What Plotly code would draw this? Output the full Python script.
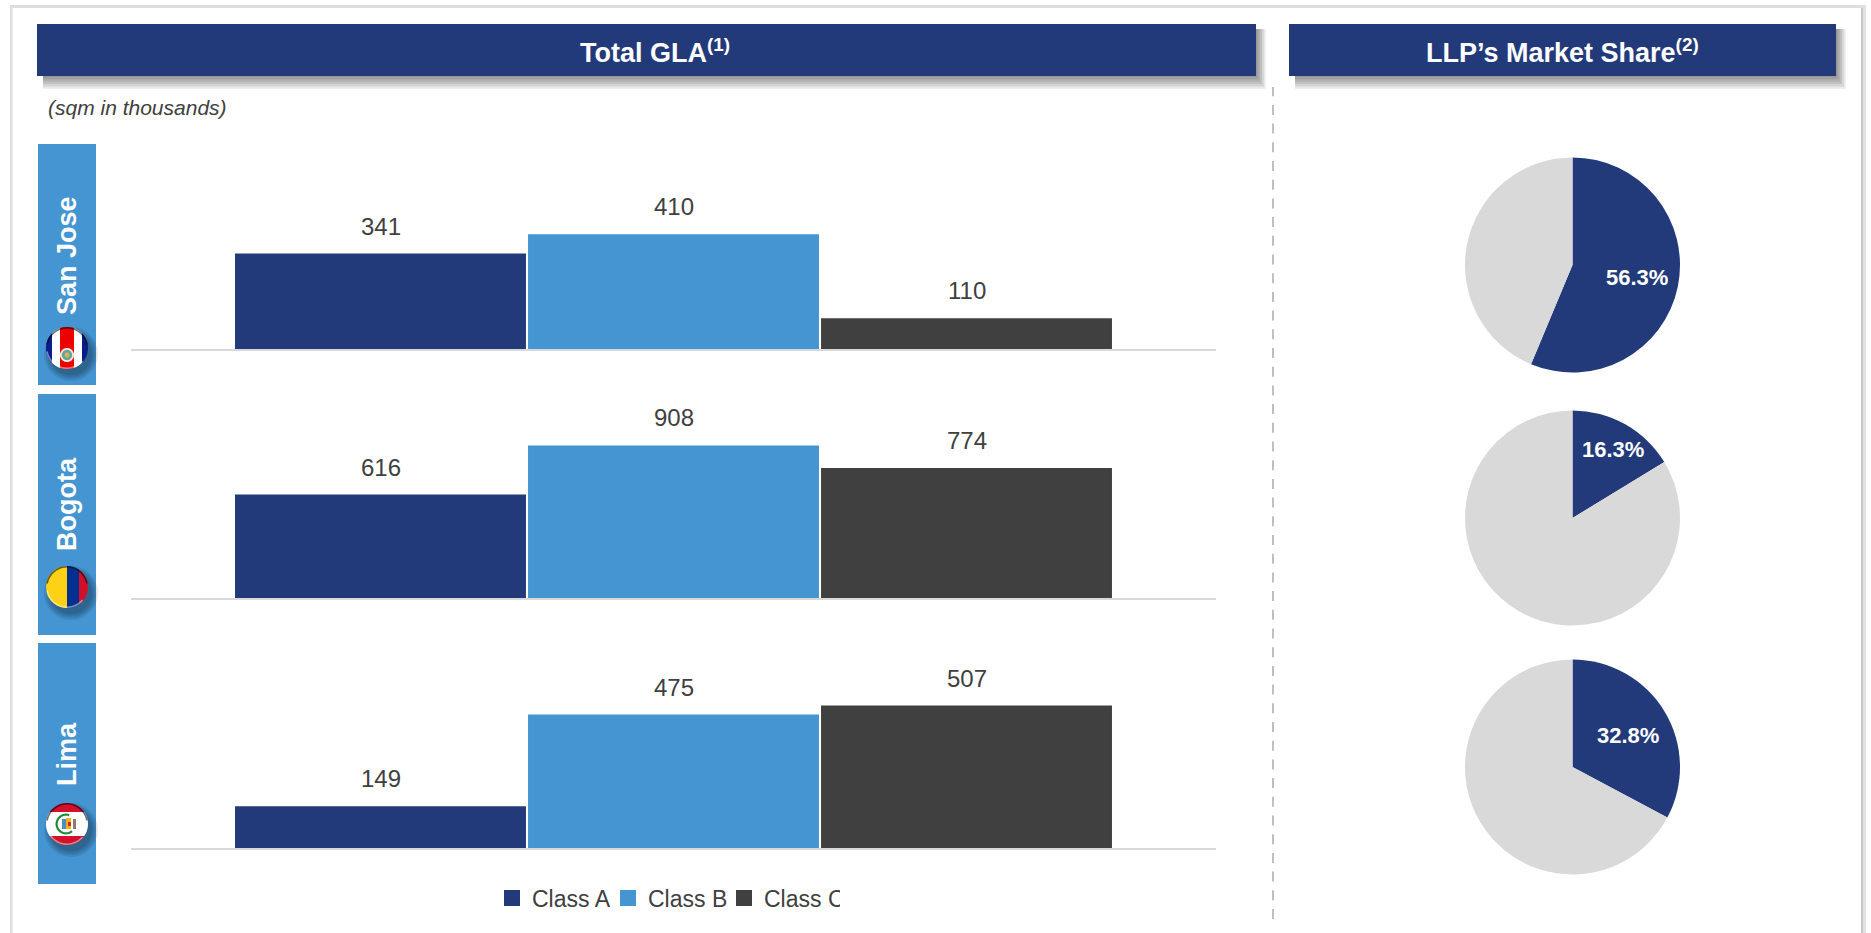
import math
import plotly.graph_objects as go

W, H = 1871, 933
FONT = "Liberation Sans"
NAVY, BLUE, DARK, GREY = "#223A7A", "#4595D3", "#404040", "#D9D9D9"

# Total GLA by city, sqm in thousands
cities = ["San Jose", "Bogota", "Lima"]
classes = ["Class A", "Class B", "Class C"]
class_a = [341, 616, 149]
class_b = [410, 908, 475]
class_c = [110, 774, 507]
class_colors = [NAVY, BLUE, DARK]

# LLP's market share per city, percent
market_share = [56.3, 16.3, 32.8]

# Layout of the three rows, in pixels from the top-left corner
baselines = [349, 598, 848]
px_per_unit = [0.280, 0.168, 0.281]
panel_tops = [144, 394, 643]
panel_bottoms = [385, 635, 884]
label_centers = [256, 504, 754]
flag_centers = [348, 587, 824]
pie_centers = [265, 518, 767]
share_label_pos = [(1637, 277), (1613, 449), (1628, 735)]
PLOT_TOP_OFFSET = 205


def px(x):
    return x / W


def py(y):
    return 1 - y / H


def rect(x0, y0, x1, y1, color, opacity=1, layer="below"):
    return dict(type="rect", xref="paper", yref="paper", x0=px(x0), x1=px(x1),
                y0=py(y1), y1=py(y0), fillcolor=color, opacity=opacity,
                line_width=0, layer=layer)


def polygon(points, color, opacity=1):
    path = "M" + "L".join(f"{px(a):.5f},{py(b):.5f}" for a, b in points) + "Z"
    return dict(type="path", xref="paper", yref="paper", path=path, fillcolor=color,
                opacity=opacity, line_width=0, layer="above")


def disc(cx, cy, r, color, opacity=1):
    pts = [(cx + r * math.cos(i * math.pi / 30), cy + r * math.sin(i * math.pi / 30))
           for i in range(60)]
    return polygon(pts, color, opacity)


def arc_ring(cx, cy, r, width, start, end, color, opacity=1):
    """Curved strip along the edge of a disc, angles in degrees."""
    steps = 24
    angles = [math.radians(start + (end - start) * i / steps) for i in range(steps + 1)]
    outer = [(cx + r * math.cos(a), cy + r * math.sin(a)) for a in angles]
    inner = [(cx + (r - width) * math.cos(a), cy + (r - width) * math.sin(a)) for a in reversed(angles)]
    return polygon(outer + inner, color, opacity)


def band(cx, cy, r, a, b, color, vertical=True):
    """Part of a disc lying between offsets a and b along one axis."""
    steps = 24
    ts = [a + (b - a) * i / steps for i in range(steps + 1)]
    half = [math.sqrt(max(r * r - t * t, 0)) for t in ts]
    if vertical:
        pts = [(cx + t, cy - h) for t, h in zip(ts, half)] + \
              [(cx + t, cy + h) for t, h in zip(reversed(ts), reversed(half))]
    else:
        pts = [(cx - h, cy + t) for t, h in zip(ts, half)] + \
              [(cx + h, cy + t) for t, h in zip(reversed(ts), reversed(half))]
    return polygon(pts, color)


def header(x0, y0, x1, y1):
    out = []
    for grow in (1.6, 1.3, 1.0, 0.7, 0.4, 0.1):
        out.append(rect(x0 + 6, y0 + 5, x1 + 6 * grow, y1 + 8 * grow, "#000000", 0.085))
    out.append(rect(x0, y0, x1, y1, NAVY))
    return out


def flag(cx, cy, stripes, vertical=True):
    r = 21
    out = [disc(cx + 4, cy + 6, r + g, "#000000", 0.09) for g in (6, 4, 2, 0)]
    for a, b, color in stripes:
        out.append(band(cx, cy, r, a, b, color, vertical))
    return out


def flag_gloss(cx, cy):
    r = 21
    return [arc_ring(cx, cy, r, 1.6, 190, 350, "#000000", 0.55),
            arc_ring(cx, cy, r, 1.6, 40, 170, "#FFFFFF", 0.45)]


shapes = []

# Outer frame
shapes += [
    rect(10, 5, 1866, 8, "#DEDEDE"),
    rect(10, 5, 12.5, 933, "#DEDEDE"),
    rect(1861, 8, 1863.5, 933, "#C6C6C6"),
    rect(1863.5, 5, 1866, 933, "#E2E2E2"),
]

# Header bands
shapes += header(37, 24, 1256, 76)
shapes += header(1289, 24, 1836, 76)

# Divider between the two sections
shapes.append(dict(type="line", xref="paper", yref="paper", x0=px(1273), x1=px(1273),
                   y0=py(919), y1=py(87), layer="below",
                   line=dict(color="#BFBFBF", width=2, dash="10px,8.7px")))

# City panels
for top, bottom in zip(panel_tops, panel_bottoms):
    shapes.append(rect(38, top, 96, bottom, BLUE))

# Costa Rica
cr_y = flag_centers[0]
shapes += flag(67, cr_y, [(-21, -15, "#0B1C8C"), (-15, -7, "#FFFFFF"), (-7, 7, "#EE0000"),
                          (7, 15, "#FFFFFF"), (15, 21, "#0B1C8C")])
shapes += [disc(67, cr_y + 7, 7, "#F4EFD8"), disc(67, cr_y + 7, 5.2, "#5FA89C"),
           disc(67, cr_y + 7, 2.5, "#D8B060")]
shapes += flag_gloss(67, cr_y)

# Colombia
shapes += flag(67, flag_centers[1], [(-21, 0, "#FDD116"), (0, 12, "#00308F"), (12, 21, "#D0102B")])
shapes += flag_gloss(67, flag_centers[1])

# Peru
pe_y = flag_centers[2]
shapes += flag(67, pe_y, [(-21, -12, "#D4102B"), (-12, 12, "#FFFFFF"), (12, 21, "#D4102B")],
               vertical=False)
shapes += [arc_ring(66, pe_y, 10.5, 2.2, 50, 290, "#1F8A3B"),
           rect(62, pe_y - 5, 66, pe_y + 5, "#4A8FC0", layer="above"),
           rect(66, pe_y - 6, 71, pe_y + 5, "#F0B020", layer="above"),
           rect(68, pe_y - 2, 71, pe_y + 2, "#D8281C", layer="above"),
           rect(73, pe_y - 5, 76, pe_y + 5, "#8A7A70", layer="above")]
shapes += flag_gloss(67, pe_y)

fig = go.Figure()

# Bar rows, each on its own pair of axes and its own value scale
BAR_PITCH = 293
x_left = -(380.5 - 131) / BAR_PITCH
x_right = 2 + (1216 - 966.5) / BAR_PITCH
annotations = []
layout_axes = {}
for row, city in enumerate(cities):
    suffix = "" if row == 0 else str(row + 1)
    values = [class_a[row], class_b[row], class_c[row]]
    top_px = baselines[row] - PLOT_TOP_OFFSET
    layout_axes["xaxis" + suffix] = dict(
        domain=[px(131), px(1216)], range=[x_left, x_right], anchor="y" + suffix,
        type="linear", showgrid=False, zeroline=False, showticklabels=False, ticks="",
        showline=True, linecolor=GREY, linewidth=2)
    layout_axes["yaxis" + suffix] = dict(
        domain=[py(baselines[row]), py(top_px)], range=[0, PLOT_TOP_OFFSET / px_per_unit[row]],
        anchor="x" + suffix, visible=False)
    for i, name in enumerate(classes):
        fig.add_trace(go.Bar(
            x=[i], y=[values[i]], width=0.993, name=name, marker=dict(color=class_colors[i], line_width=0),
            xaxis="x" + suffix, yaxis="y" + suffix, showlegend=False, hoverinfo="x+y"))
        annotations.append(dict(
            x=i, y=values[i], xref="x" + suffix, yref="y" + suffix, text=str(values[i]),
            showarrow=False, xanchor="center", yanchor="bottom", yshift=12,
            font=dict(family=FONT, size=24, color=DARK)))
    annotations.append(dict(
        x=px(67), y=py(label_centers[row]), xref="paper", yref="paper", text=f"<b>{city}</b>",
        textangle=-90, showarrow=False, xanchor="center", yanchor="middle",
        font=dict(family=FONT, size=27, color="white")))

# Legend entries with square swatches
for name, color in zip(classes, class_colors):
    fig.add_trace(go.Scatter(
        x=[None], y=[None], mode="markers", name=name,
        marker=dict(symbol="square", size=16, color=color), xaxis="x", yaxis="y"))

# Market share pies
PIE_R = 107.5
for row, share in enumerate(market_share):
    cy = pie_centers[row]
    fig.add_trace(go.Pie(
        values=[share, 100 - share], labels=["LLP", "Other"], sort=False, direction="clockwise",
        rotation=0, marker=dict(colors=[NAVY, GREY], line_width=0), textinfo="none", showlegend=False,
        domain=dict(x=[px(1572.5 - PIE_R), px(1572.5 + PIE_R)], y=[py(cy + PIE_R), py(cy - PIE_R)])))
    lx, ly = share_label_pos[row]
    annotations.append(dict(
        x=px(lx), y=py(ly), xref="paper", yref="paper", text=f"<b>{share}%</b>", showarrow=False,
        xanchor="center", yanchor="middle", font=dict(family=FONT, size=22, color="white")))

# Section titles and unit note
annotations += [
    dict(x=px(655), y=py(51), xref="paper", yref="paper", showarrow=False, xanchor="center", yanchor="middle",
         text="<b>Total GLA<sup>(1)</sup></b>", font=dict(family=FONT, size=27, color="white")),
    dict(x=px(1562), y=py(51), xref="paper", yref="paper", showarrow=False, xanchor="center", yanchor="middle",
         text="<b>LLP’s Market Share<sup>(2)</sup></b>", font=dict(family=FONT, size=27, color="white")),
    dict(x=px(46), y=py(107), xref="paper", yref="paper", showarrow=False, xanchor="left", yanchor="middle",
         text="<i>(sqm in thousands)</i>", font=dict(family=FONT, size=21, color=DARK)),
]

fig.update_layout(
    width=W, height=H, margin=dict(l=0, r=0, t=0, b=0, autoexpand=False),
    paper_bgcolor="white", plot_bgcolor="white", barmode="overlay",
    shapes=shapes, annotations=annotations, hovermode="closest", showlegend=True,
    legend=dict(orientation="h", x=px(492), xanchor="left", y=py(898), yanchor="middle",
                entrywidth=71, entrywidthmode="pixels", itemwidth=30, itemclick=False,
                font=dict(family=FONT, size=23, color=DARK), bgcolor="rgba(0,0,0,0)"),
    **layout_axes,
)

fig.write_html("out.html", config=dict(displayModeBar=False))
